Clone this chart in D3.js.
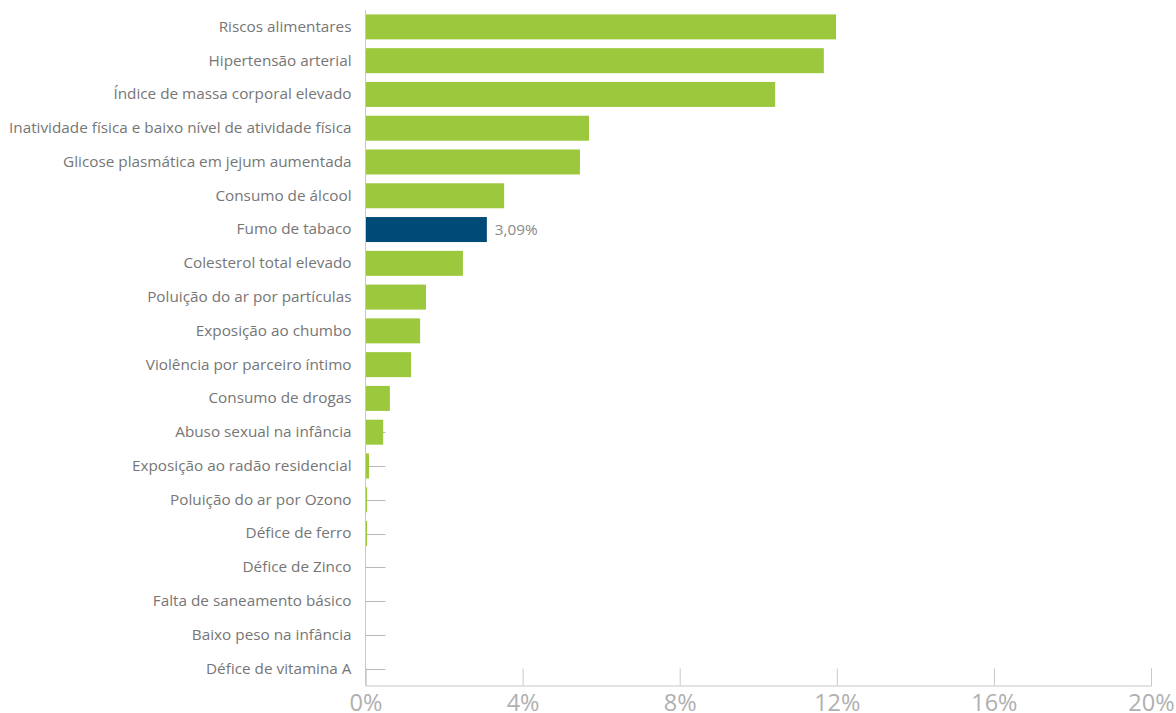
<!DOCTYPE html>
<html>
<head>
<meta charset="utf-8">
<script src="https://cdn.jsdelivr.net/npm/d3@7"></script>
<style>
  html, body { margin: 0; padding: 0; background: #fff; }
  svg { display: block; font-family: "Open Sans", "Noto Sans", sans-serif; }
</style>
</head>
<body>
<svg id="chart" width="1176" height="713"></svg>
<script>
// Risk factors (share of attributable burden, %)
const categories = [
  "Riscos alimentares",
  "Hipertensão arterial",
  "Índice de massa corporal elevado",
  "Inatividade física e baixo nível de atividade física",
  "Glicose plasmática em jejum aumentada",
  "Consumo de álcool",
  "Fumo de tabaco",
  "Colesterol total elevado",
  "Poluição do ar por partículas",
  "Exposição ao chumbo",
  "Violência por parceiro íntimo",
  "Consumo de drogas",
  "Abuso sexual na infância",
  "Exposição ao radão residencial",
  "Poluição do ar por Ozono",
  "Défice de ferro",
  "Défice de Zinco",
  "Falta de saneamento básico",
  "Baixo peso na infância",
  "Défice de vitamina A"
];
const values = [
  11.98, 11.67, 10.43, 5.69, 5.46, 3.53, 3.09, 2.48, 1.54, 1.39,
  1.16, 0.62, 0.45, 0.09, 0.04, 0.04, 0.01, 0.005, 0.005, 0.005
];
const highlighted = ["Fumo de tabaco"];
const xTicks = [0, 4, 8, 12, 16, 20];

const data = categories.map((c, i) => ({ name: c, value: values[i] }));

const svg = d3.select("#chart");
const plotLeft = 365.5, plotRight = 1151, plotTop = 10, plotBottom = 685.5;

const x = d3.scaleLinear().domain([0, 20]).range([plotLeft, plotRight]);
const y = d3.scaleBand().domain(categories).range([plotTop, plotBottom])
  .paddingInner(0.26).paddingOuter(0.13);

const fmt = v => d3.format(".2f")(v).replace(".", ",") + "%";

// category ticks (behind bars)
svg.append("g")
  .selectAll("line")
  .data(categories)
  .join("line")
  .attr("x1", plotLeft).attr("x2", plotLeft + 20)
  .attr("y1", d => Math.round(y(d) + y.bandwidth() / 2) + 0.5)
  .attr("y2", d => Math.round(y(d) + y.bandwidth() / 2) + 0.5)
  .attr("stroke", "#b8b8b8").attr("stroke-width", 1);

// bars
svg.append("g")
  .selectAll("rect")
  .data(data)
  .join("rect")
  .attr("x", x(0))
  .attr("y", d => y(d.name))
  .attr("width", d => x(d.value) - x(0))
  .attr("height", y.bandwidth())
  .attr("fill", d => highlighted.includes(d.name) ? "#004a78" : "#9bc83c");

// value label for the highlighted bar
svg.append("g")
  .selectAll("text")
  .data(data.filter(d => highlighted.includes(d.name)))
  .join("text")
  .attr("x", d => x(d.value) + 8)
  .attr("y", d => y(d.name) + y.bandwidth() / 2)
  .attr("dy", "0.35em")
  .attr("font-size", 15.3)
  .attr("fill", "#8a8a8a")
  .text(d => fmt(d.value));

// y axis
const yAxis = svg.append("g")
  .attr("transform", `translate(${plotLeft},0)`)
  .call(d3.axisLeft(y).tickSize(0).tickPadding(14));
yAxis.select(".domain").attr("stroke", "#c8c8c8").attr("d", `M0,${plotTop}V${plotBottom}`);
yAxis.selectAll("text").attr("font-size", 15.3).attr("fill", "#767676")
  .attr("font-family", "'Open Sans', 'Noto Sans', sans-serif");

// x axis
const xAxis = svg.append("g")
  .attr("transform", `translate(0,${plotBottom})`)
  .call(d3.axisBottom(x).tickValues(xTicks).tickFormat(d => d + "%").tickSize(-17));
xAxis.select(".domain").attr("stroke", "#c8c8c8");
xAxis.selectAll(".tick line").attr("stroke", "#c8c8c8");
xAxis.selectAll("text").attr("font-size", 23.5).attr("fill", "#b0b0b0")
  .attr("font-family", "'Open Sans', 'Noto Sans', sans-serif")
  .attr("y", 25).attr("dy", 0);
</script>
</body>
</html>
